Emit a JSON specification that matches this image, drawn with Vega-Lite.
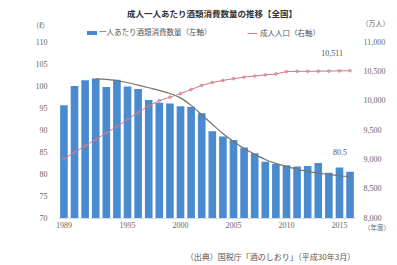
{
  "$schema": "https://vega.github.io/schema/vega-lite/v6.json",
  "width": 298,
  "height": 176,
  "autosize": {"type": "none"},
  "padding": {"left": 58, "top": 42, "right": 41, "bottom": 47},
  "background": "white",
  "title": {
    "text": "成人一人あたり酒類消費数量の推移【全国】",
    "frame": "group",
    "anchor": "middle",
    "dx": 5,
    "offset": 1,
    "fontSize": 8.5,
    "font": "Noto Sans CJK JP",
    "fontWeight": "bold",
    "color": "#333333"
  },
  "config": {
    "view": {"stroke": null},
    "axis": {"grid": false, "ticks": false, "labelColor": "#666666", "titleColor": "#666666", "titleFontWeight": "normal"}
  },
  "data": {
    "values": [
      {"year": 1989, "consumption": 95.6, "trend": null, "population": 9010},
      {"year": 1990, "consumption": 100.0, "trend": null, "population": 9120},
      {"year": 1991, "consumption": 101.3, "trend": null, "population": 9230},
      {"year": 1992, "consumption": 101.7, "trend": 101.6, "population": 9340},
      {"year": 1993, "consumption": 99.8, "trend": 101.5, "population": 9450},
      {"year": 1994, "consumption": 101.4, "trend": 101.2, "population": 9560},
      {"year": 1995, "consumption": 99.9, "trend": 100.8, "population": 9680},
      {"year": 1996, "consumption": 99.3, "trend": 100.2, "population": 9800},
      {"year": 1997, "consumption": 96.8, "trend": 99.6, "population": 9910},
      {"year": 1998, "consumption": 96.2, "trend": 99.0, "population": 10000},
      {"year": 1999, "consumption": 96.0, "trend": 98.3, "population": 10060},
      {"year": 2000, "consumption": 95.4, "trend": 97.3, "population": 10120},
      {"year": 2001, "consumption": 95.3, "trend": 95.6, "population": 10190},
      {"year": 2002, "consumption": 93.8, "trend": 93.5, "population": 10260},
      {"year": 2003, "consumption": 89.7, "trend": 91.3, "population": 10310},
      {"year": 2004, "consumption": 88.5, "trend": 89.2, "population": 10345},
      {"year": 2005, "consumption": 87.7, "trend": 87.4, "population": 10375},
      {"year": 2006, "consumption": 86.0, "trend": 85.8, "population": 10400},
      {"year": 2007, "consumption": 84.7, "trend": 84.5, "population": 10420},
      {"year": 2008, "consumption": 82.8, "trend": 83.3, "population": 10440},
      {"year": 2009, "consumption": 82.3, "trend": 82.4, "population": 10455},
      {"year": 2010, "consumption": 82.0, "trend": 81.7, "population": 10495},
      {"year": 2011, "consumption": 81.7, "trend": 81.1, "population": 10500},
      {"year": 2012, "consumption": 81.8, "trend": 80.6, "population": 10500},
      {"year": 2013, "consumption": 82.5, "trend": 80.2, "population": 10503},
      {"year": 2014, "consumption": 80.3, "trend": 79.9, "population": 10505},
      {"year": 2015, "consumption": 81.5, "trend": 79.6, "population": 10508},
      {"year": 2016, "consumption": 80.5, "trend": 79.4, "population": 10511}
    ]
  },
  "encoding": {
    "x": {
      "field": "year",
      "type": "ordinal",
      "scale": {"paddingInner": 0.28, "paddingOuter": 0.2},
      "axis": {
        "values": [1989, 1995, 2000, 2005, 2010, 2015, 2016],
        "labelExpr": "datum.value == 2016 ? '（年度）' : datum.label",
        "labelAngle": 0,
        "labelOverlap": false,
        "labelAlign": {"condition": {"test": "datum.value == 2016", "value": "left"}, "value": "center"},
        "labelOffset": {"condition": {"test": "datum.value == 2016", "value": 14}, "value": 0},
        "labelFont": {"condition": {"test": "datum.value == 2016", "value": "Noto Sans CJK JP"}, "value": "Liberation Serif"},
        "labelFontSize": {"condition": {"test": "datum.value == 2016", "value": 6.5}, "value": 8},
        "labelPadding": {"condition": {"test": "datum.value == 2016", "value": 6}, "value": 3},
        "domain": true,
        "domainColor": "#dddddd",
        "title": "（出典）国税庁「酒のしおり」（平成30年3月）",
        "titleFont": "Noto Sans CJK JP",
        "titleFontSize": 8,
        "titleColor": "#555555",
        "titleX": 212,
        "titleY": 39,
        "titleAlign": "center",
        "titleBaseline": "middle"
      }
    }
  },
  "layer": [
    {
      "mark": {"type": "bar", "clip": true},
      "encoding": {
        "y": {
          "field": "consumption",
          "type": "quantitative",
          "scale": {"domain": [70, 110], "nice": false, "zero": false},
          "axis": {
            "orient": "left",
            "values": [70, 75, 80, 85, 90, 95, 100, 105, 110],
            "domain": false,
            "labelFont": "Liberation Serif",
            "labelFontSize": 8,
            "labelPadding": 11,
            "title": "（ℓ）",
            "titleFont": "Noto Sans CJK JP",
            "titleFontSize": 7,
            "titleAngle": 0,
            "titleX": -18,
            "titleY": -17,
            "titleAlign": "center",
            "titleBaseline": "middle"
          }
        },
        "fill": {
          "datum": "一人あたり酒類消費数量（左軸）",
          "type": "nominal",
          "scale": {"range": ["#4a8bd0"]},
          "legend": {
            "orient": "none",
            "legendX": 29,
            "legendY": -14,
            "title": null,
            "padding": 0,
            "symbolType": "M-1,-0.4H1V0.4H-1Z",
            "symbolSize": 100,
            "symbolStrokeWidth": 0,
            "labelFont": "Noto Sans CJK JP",
            "labelFontSize": 7.5,
            "labelColor": "#555555",
            "labelOffset": 2
          }
        }
      }
    },
    {
      "mark": {"type": "line", "color": "#7a7268", "strokeWidth": 1.2, "interpolate": "monotone"},
      "encoding": {
        "y": {
          "field": "trend",
          "type": "quantitative",
          "scale": {"domain": [70, 110], "nice": false, "zero": false},
          "axis": null
        }
      }
    },
    {
      "mark": {"type": "line", "strokeWidth": 1, "point": {"shape": "cross", "size": 8, "filled": false, "strokeWidth": 0.7}},
      "encoding": {
        "y": {
          "field": "population",
          "type": "quantitative",
          "scale": {"domain": [8000, 11000], "nice": false, "zero": false},
          "axis": {
            "orient": "right",
            "values": [8000, 8500, 9000, 9500, 10000, 10500, 11000],
            "format": ",.0f",
            "domain": false,
            "labelFont": "Liberation Serif",
            "labelFontSize": 8,
            "labelPadding": 7,
            "title": "（万人）",
            "titleFont": "Noto Sans CJK JP",
            "titleFontSize": 7,
            "titleAngle": 0,
            "titleX": 19,
            "titleY": -19,
            "titleAlign": "center",
            "titleBaseline": "middle"
          }
        },
        "stroke": {
          "datum": "成人人口（右軸）",
          "type": "nominal",
          "scale": {"range": ["#cf7a86"]},
          "legend": {
            "orient": "none",
            "legendX": 189,
            "legendY": -14,
            "title": null,
            "padding": 0,
            "symbolType": "stroke",
            "symbolSize": 100,
            "symbolStrokeWidth": 1,
            "labelFont": "Noto Sans CJK JP",
            "labelFontSize": 7.5,
            "labelColor": "#555555",
            "labelOffset": 2
          }
        }
      }
    },
    {
      "transform": [{"filter": "datum.year == 2016"}],
      "mark": {"type": "text", "font": "Liberation Serif", "fontSize": 8, "color": "#555555", "dx": -10, "dy": -19, "baseline": "middle"},
      "encoding": {
        "y": {"field": "consumption", "type": "quantitative", "scale": {"domain": [70, 110], "nice": false, "zero": false}, "axis": null},
        "text": {"field": "consumption", "type": "quantitative", "format": ".1f"}
      }
    },
    {
      "transform": [{"filter": "datum.year == 2016"}],
      "mark": {"type": "text", "font": "Liberation Serif", "fontSize": 8, "color": "#555555", "dx": -18, "dy": -17, "baseline": "middle"},
      "encoding": {
        "y": {"field": "population", "type": "quantitative", "scale": {"domain": [8000, 11000], "nice": false, "zero": false}, "axis": null},
        "text": {"field": "population", "type": "quantitative", "format": ","}
      }
    }
  ],
  "resolve": {"scale": {"y": "independent"}}
}
